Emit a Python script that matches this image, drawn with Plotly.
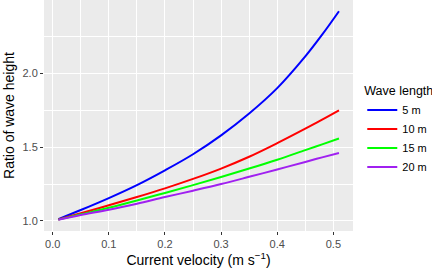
import plotly.graph_objects as go

velocity = [0.01, 0.05, 0.10, 0.15, 0.20, 0.25, 0.30, 0.35, 0.40, 0.45, 0.48, 0.51]
ratio_5m = [1.012, 1.074, 1.155, 1.243, 1.343, 1.452, 1.580, 1.728, 1.900, 2.115, 2.262, 2.421]
ratio_10m = [1.010, 1.052, 1.106, 1.162, 1.221, 1.285, 1.355, 1.435, 1.527, 1.625, 1.686, 1.749]
ratio_15m = [1.009, 1.045, 1.089, 1.138, 1.190, 1.243, 1.298, 1.355, 1.415, 1.480, 1.519, 1.559]
ratio_20m = [1.008, 1.040, 1.076, 1.117, 1.162, 1.205, 1.250, 1.299, 1.349, 1.400, 1.431, 1.461]

series = [
    ("5 m", ratio_5m, "#0000FF"),
    ("10 m", ratio_10m, "#FF0000"),
    ("15 m", ratio_15m, "#00FF00"),
    ("20 m", ratio_20m, "#A020F0"),
]

x_ticks = [0.0, 0.1, 0.2, 0.3, 0.4, 0.5]
y_ticks = [1.0, 1.5, 2.0]

fig = go.Figure()
for name, vals, col in series:
    fig.add_trace(go.Scatter(x=velocity, y=vals, name=name, mode="lines",
                             line=dict(color=col, width=2, shape="spline", smoothing=1.0)))

FONT = "Liberation Sans, Arial, Helvetica, sans-serif"
fig.update_layout(
    template="none",
    width=432, height=272,
    margin=dict(l=44, r=79, t=0, b=41, autoexpand=False),
    paper_bgcolor="white", plot_bgcolor="#EBEBEB",
    font=dict(family=FONT, size=11, color="#4D4D4D"),
    showlegend=True,
    legend=dict(
        title=dict(text="Wave length", font=dict(size=12.5, color="black")),
        font=dict(size=11, color="black"),
        x=1.03, y=0.657, xanchor="left", yanchor="top",
        bgcolor="rgba(0,0,0,0)", tracegroupgap=0, itemwidth=30,
    ),
    xaxis=dict(
        range=[-0.0155, 0.535], tickvals=x_ticks, ticktext=[f"{v:.1f}" for v in x_ticks],
        showgrid=True, gridcolor="white", gridwidth=1.1, zeroline=False, automargin=False,
        minor=dict(dtick=0.05, tick0=0.05, showgrid=True, gridcolor="white", gridwidth=0.5, ticks=""),
        ticks="outside", ticklen=3, tickcolor="#333333", tickwidth=1,
        tickfont=dict(size=11, color="#4D4D4D"),
        title=dict(text="Current velocity (m s<sup>\u22121</sup>)", font=dict(size=14, color="black"), standoff=5),
        showline=False,
    ),
    yaxis=dict(
        range=[0.932, 2.497], tickvals=y_ticks, ticktext=[f"{v:.1f}" for v in y_ticks],
        showgrid=True, gridcolor="white", gridwidth=1.1, zeroline=False, automargin=False,
        minor=dict(dtick=0.25, tick0=0.25, showgrid=True, gridcolor="white", gridwidth=0.5, ticks=""),
        ticks="outside", ticklen=3, tickcolor="#333333", tickwidth=1,
        tickfont=dict(size=11, color="#4D4D4D"),
        title=dict(text="Ratio of wave height", font=dict(size=14, color="black"), standoff=4),
        showline=False,
    ),
)

fig.write_html(
    "out.html",
    config={"displayModeBar": False},
    post_script="document.body.style.margin='0';document.body.style.overflow='hidden';",
)
